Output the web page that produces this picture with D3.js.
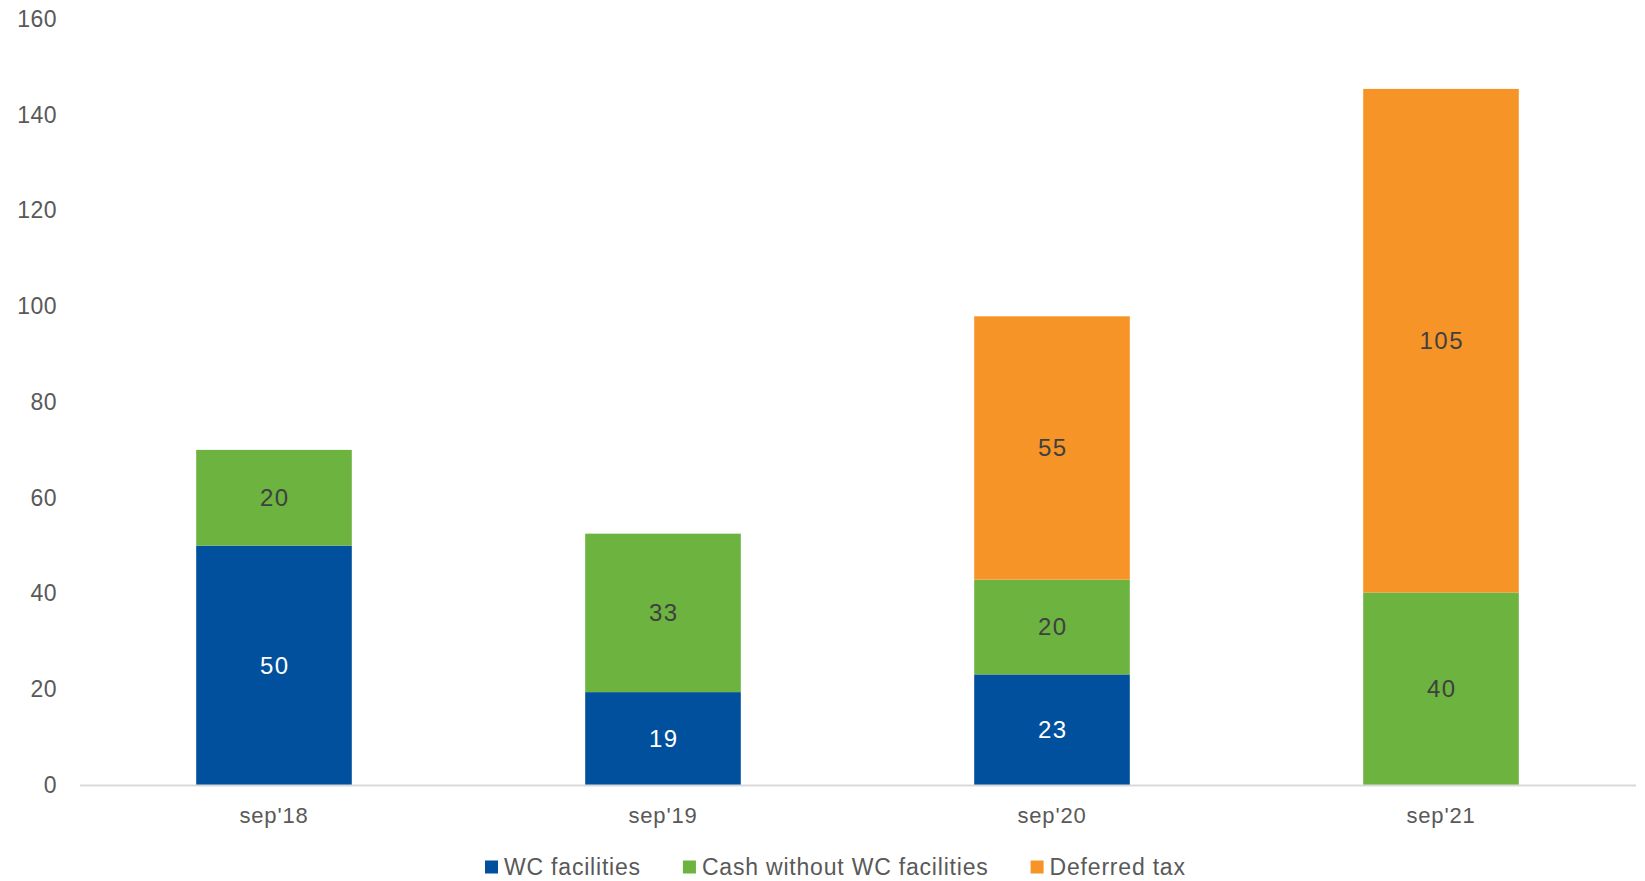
<!DOCTYPE html>
<html>
<head>
<meta charset="utf-8">
<script src="https://cdn.jsdelivr.net/npm/d3@7"></script>
<style>
  html, body { margin: 0; padding: 0; background: #fff; }
  svg { display: block; font-family: "Liberation Sans", Arial, sans-serif; }
</style>
</head>
<body>
<svg id="chart" width="1645" height="881"></svg>
<script>
const categories = ["sep'18", "sep'19", "sep'20", "sep'21"];
const seriesNames = ["WC facilities", "Cash without WC facilities", "Deferred tax"];
const wcFacilities = [50, 19.4, 23.1, 0];
const cashWithoutWC = [20, 33.1, 19.8, 40.2];
const deferredTax = [0, 0, 55.0, 105.2];
const yTicks = [0, 20, 40, 60, 80, 100, 120, 140, 160];
const colors = ["#00509E", "#6CB33F", "#F79428"];
const labelColors = ["#FFFFFF", "#404040", "#404040"];

const svg = d3.select("#chart");

const x = d3.scaleBand().domain(categories).range([79.5, 1635.5])
  .paddingInner(0.6).paddingOuter(0.3);
const y = d3.scaleLinear().domain([0, 160]).range([785, 19]);

const rows = categories.map((c, i) => ({
  cat: c, s0: wcFacilities[i], s1: cashWithoutWC[i], s2: deferredTax[i]
}));
const stack = d3.stack().keys(["s0", "s1", "s2"]);
const layers = stack(rows);

// y axis labels
const yAxis = d3.axisLeft(y).tickValues(yTicks).tickSize(0).tickPadding(0);
const gy = svg.append("g").attr("transform", "translate(57,0)").call(yAxis);
gy.select(".domain").remove();
gy.selectAll("text").attr("fill", "#595959").style("font-size", "23px")
  .style("letter-spacing", "0.5px")
  .style("font-family", "'Liberation Sans', Arial, sans-serif");

// bars
layers.forEach((layer, li) => {
  svg.append("g").selectAll("rect").data(layer.filter(d => d[1] - d[0] > 0)).join("rect")
    .attr("x", d => x(d.data.cat))
    .attr("width", x.bandwidth())
    .attr("y", d => y(d[1]))
    .attr("height", d => y(d[0]) - y(d[1]))
    .attr("fill", colors[li]);
});

// value labels
const fmt = d3.format(".0f");
layers.forEach((layer, li) => {
  svg.append("g").selectAll("text").data(layer.filter(d => d[1] - d[0] > 0)).join("text")
    .attr("x", d => x(d.data.cat) + x.bandwidth() / 2 + 0.75)
    .attr("y", d => y((d[0] + d[1]) / 2))
    .attr("dy", "0.35em")
    .attr("text-anchor", "middle")
    .attr("fill", labelColors[li])
    .style("font-size", "24px")
    .style("letter-spacing", "1.5px")
    .text(d => fmt(d[1] - d[0]));
});

// x axis
const xAxis = d3.axisBottom(x).tickSize(0).tickPadding(0);
const gx = svg.append("g").attr("transform", "translate(0,785)").call(xAxis);
gx.select(".domain").attr("stroke", "#D9D9D9").attr("stroke-width", 2);
gx.selectAll("text").attr("fill", "#595959").attr("y", 30).attr("dy", "0.35em")
  .style("font-size", "22px")
  .style("letter-spacing", "0.8px")
  .style("font-family", "'Liberation Sans', Arial, sans-serif");

// legend
const legend = svg.append("g");
const items = legend.selectAll("g").data(seriesNames).join("g");
items.append("rect").attr("width", 13).attr("height", 13).attr("y", -6.5)
  .attr("fill", (d, i) => colors[i]);
items.append("text").attr("x", 19).attr("dy", "0.35em").attr("fill", "#595959")
  .style("font-size", "23px").style("letter-spacing", "0.8px").text(d => d);
let cx = 0;
items.each(function() {
  d3.select(this).attr("transform", `translate(${cx},0)`);
  cx += this.getBBox().width + 42;
});
legend.attr("transform", `translate(485,867)`);
</script>
</body>
</html>
